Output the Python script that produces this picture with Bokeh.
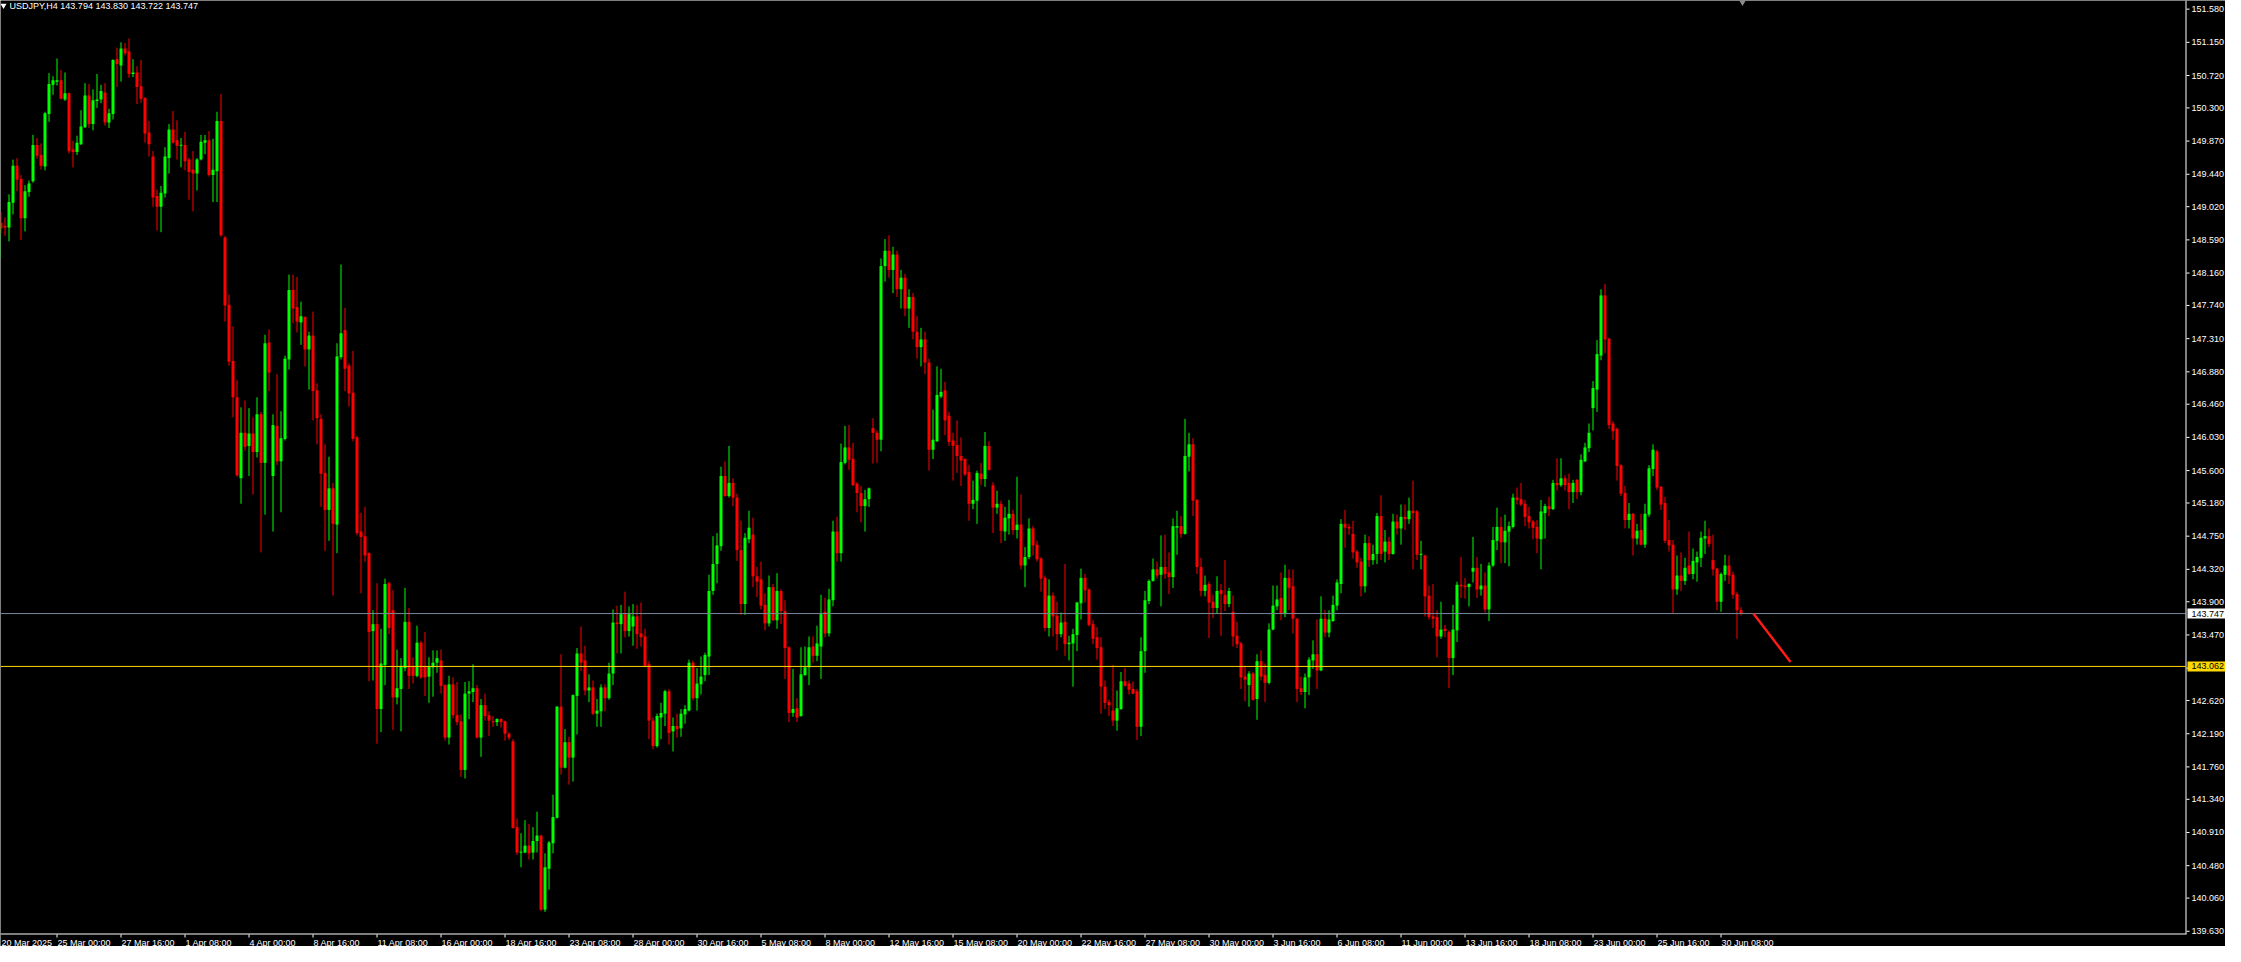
import sys
from bokeh.plotting import figure
from bokeh.models import Range1d, Label
from bokeh.core.properties import value
from bokeh.embed import file_html
from bokeh.resources import INLINE

symbol = "USDJPY,H4"

opens = [
    148.35, 148.74, 148.81, 148.77, 148.75, 149.07, 149.55, 149.38, 148.87, 149.21,
    149.35, 149.82, 149.69, 149.54, 150.22, 150.60, 150.64, 150.66, 150.41, 150.49,
    149.76, 149.73, 149.83, 150.05, 150.46, 150.09, 150.39, 150.41, 150.50, 150.11,
    150.22, 150.93, 150.85, 151.07, 151.03, 150.74, 150.76, 150.58, 150.43, 149.98,
    149.67, 149.16, 149.02, 149.19, 149.65, 150.02, 149.88, 149.81, 149.82, 149.63,
    149.50, 149.45, 149.63, 149.85, 149.88, 149.43, 149.48, 150.13, 148.62, 147.75,
    147.02, 146.55, 145.50, 146.09, 145.92, 146.08, 145.84, 146.33, 145.70, 147.26,
    145.53, 146.18, 145.72, 146.01, 147.04, 147.94, 147.72, 147.52, 147.59, 147.17,
    147.35, 146.64, 146.27, 145.57, 145.09, 145.37, 144.90, 147.07, 147.42, 146.96,
    146.61, 146.03, 144.81, 144.75, 144.53, 143.52, 143.61, 142.51, 143.08, 144.14,
    143.79, 142.66, 142.77, 143.04, 143.64, 143.06, 142.94, 143.37, 143.06, 142.93,
    143.05, 143.11, 143.14, 142.82, 142.14, 142.83, 142.43, 142.35, 141.72, 142.71,
    142.73, 142.78, 142.14, 142.56, 142.43, 142.35, 142.34, 142.38, 142.35, 142.19,
    142.09, 140.98, 140.65, 140.65, 140.74, 140.65, 140.80, 140.87, 139.91, 140.44,
    140.77, 141.10, 142.54, 141.75, 142.08, 141.88, 142.68, 143.23, 143.14, 142.75,
    142.79, 142.45, 142.48, 142.79, 142.65, 142.97, 143.63, 143.61, 143.74, 143.52,
    143.58, 143.71, 143.49, 143.45, 143.09, 142.36, 142.03, 142.40, 142.45, 142.74,
    142.22, 142.29, 142.26, 142.44, 142.49, 143.11, 142.65, 142.83, 142.95, 143.19,
    144.04, 144.39, 144.62, 145.53, 145.27, 145.44, 145.25, 144.57, 143.87, 144.71,
    144.77, 144.23, 144.19, 143.86, 143.62, 144.09, 143.66, 144.04, 143.78, 143.31,
    142.46, 142.52, 142.42, 142.95, 143.05, 143.32, 143.20, 143.32, 143.77, 143.49,
    143.92, 144.81, 144.53, 145.70, 145.90, 145.75, 145.43, 145.31, 145.14, 145.23,
    146.15, 146.09, 146.00, 148.25, 148.45, 148.20, 148.40, 147.95, 148.10, 147.70,
    147.85, 147.40, 147.20, 147.30, 147.00, 145.87, 145.98, 146.56, 146.64, 146.31,
    145.99, 145.93, 145.79, 145.75, 145.58, 145.17, 145.21, 145.56, 145.49, 145.92,
    145.41, 145.12, 145.17, 144.81, 144.98, 145.04, 144.83, 144.90, 144.37, 144.48,
    144.85, 144.64, 144.46, 144.21, 143.56, 143.98, 143.72, 143.48, 143.64, 143.35,
    143.36, 143.47, 143.88, 144.21, 144.06, 143.61, 143.44, 143.31, 142.80, 142.60,
    142.49, 142.36, 142.51, 142.87, 142.84, 142.77, 142.74, 142.28, 143.26, 143.91,
    144.17, 144.32, 144.25, 144.35, 144.28, 144.22, 144.86, 144.88, 144.78, 145.78,
    145.94, 145.22, 144.35, 144.04, 144.13, 143.90, 143.82, 144.05, 143.99, 143.87,
    143.77, 143.46, 143.36, 142.93, 142.82, 142.97, 142.64, 143.13, 142.95, 142.85,
    143.54, 143.84, 143.95, 143.74, 144.21, 144.10, 143.68, 142.78, 142.73, 142.92,
    143.14, 143.22, 143.01, 143.68, 143.50, 143.65, 143.85, 144.13, 144.91, 144.87,
    144.78, 144.55, 144.42, 144.10, 144.66, 144.44, 144.52, 145.01, 144.55, 144.68,
    144.52, 144.94, 144.85, 145.00, 144.97, 145.08, 145.07, 144.51, 144.50, 143.98,
    143.71, 143.70, 143.45, 143.55, 143.51, 143.17, 143.53, 144.12, 144.11, 144.09,
    144.29, 144.34, 144.06, 144.11, 143.80, 144.37, 144.69, 144.87, 144.67, 144.81,
    144.87, 145.25, 145.23, 145.17, 145.01, 144.94, 144.87, 144.71, 145.05, 145.14,
    145.10, 145.44, 145.41, 145.50, 145.44, 145.32, 145.48, 145.32, 145.72, 145.89,
    146.41, 146.65, 147.09, 147.87, 147.31, 146.21, 146.14, 145.67, 145.31, 144.96,
    145.04, 144.72, 144.83, 144.64, 145.03, 145.62, 145.85, 145.39, 145.18, 144.70,
    144.64, 144.06, 144.24, 144.17, 144.37, 144.26, 144.41, 144.47, 144.72, 144.75,
    144.44, 144.33, 143.90, 144.25, 144.37, 144.25, 144.00, 143.794,
]

highs = [
    148.77, 148.83, 148.95, 148.88, 149.18, 149.63, 149.65, 149.43, 149.30, 149.36,
    149.95, 149.91, 149.84, 150.25, 150.75, 150.71, 150.94, 150.79, 150.76, 150.50,
    149.87, 149.94, 150.27, 150.62, 150.61, 150.54, 150.74, 150.60, 150.62, 150.29,
    150.93, 151.08, 151.15, 151.14, 151.20, 150.93, 150.84, 150.92, 150.44, 150.13,
    149.74, 149.24, 149.29, 149.79, 150.09, 150.26, 150.14, 149.91, 149.99, 149.65,
    149.74, 149.65, 149.95, 149.95, 150.00, 149.90, 150.25, 150.48, 148.64, 147.88,
    147.47, 146.77, 146.42, 146.51, 146.41, 146.29, 146.55, 146.36, 147.36, 147.43,
    146.33, 146.85, 146.37, 147.09, 148.14, 148.14, 148.11, 147.79, 147.60, 147.40,
    147.66, 146.73, 146.33, 145.94, 145.78, 145.44, 147.25, 148.27, 147.71, 146.99,
    147.15, 146.05, 145.05, 145.13, 144.54, 143.79, 144.14, 143.55, 144.20, 144.16,
    144.05, 143.28, 143.17, 144.08, 143.82, 143.18, 143.59, 143.39, 143.51, 143.18,
    143.27, 143.27, 143.28, 142.83, 142.94, 142.92, 142.86, 142.44, 142.86, 142.87,
    143.09, 142.82, 142.64, 142.71, 142.48, 142.42, 142.39, 142.39, 142.36, 142.21,
    142.12, 141.09, 140.90, 141.07, 141.02, 140.98, 141.18, 140.88, 140.64, 140.80,
    141.40, 142.55, 143.22, 142.25, 142.15, 142.70, 143.30, 143.58, 143.33, 142.96,
    142.88, 142.64, 142.83, 142.83, 143.11, 143.80, 143.85, 143.86, 144.03, 143.84,
    143.87, 143.86, 143.89, 143.55, 143.13, 142.40, 142.45, 142.59, 142.76, 142.77,
    142.40, 142.45, 142.51, 142.56, 143.15, 143.14, 143.04, 143.19, 143.24, 144.25,
    144.75, 144.79, 145.65, 145.72, 145.92, 145.50, 145.30, 144.95, 144.79, 145.08,
    144.99, 144.35, 144.42, 144.01, 144.24, 144.13, 144.27, 144.06, 143.92, 143.32,
    143.03, 142.65, 143.31, 143.32, 143.45, 143.45, 143.59, 143.99, 143.95, 144.07,
    144.95, 145.00, 145.95, 146.18, 146.19, 145.96, 145.45, 145.40, 145.35, 145.38,
    146.28, 146.12, 148.35, 148.60, 148.65, 148.50, 148.45, 148.20, 148.15, 147.95,
    147.90, 147.60, 147.45, 147.40, 147.05, 146.39, 146.95, 146.92, 146.75, 146.36,
    146.09, 146.25, 146.03, 145.76, 145.67, 145.47, 145.60, 145.70, 146.10, 145.98,
    145.45, 145.34, 145.21, 145.13, 145.22, 145.09, 145.52, 145.29, 144.61, 144.98,
    144.88, 144.69, 144.48, 144.24, 144.19, 144.02, 143.90, 143.76, 144.39, 143.46,
    143.55, 143.90, 144.33, 144.26, 144.07, 143.66, 143.57, 143.44, 142.88, 142.63,
    143.08, 142.75, 142.99, 143.04, 142.88, 142.87, 142.77, 143.44, 144.04, 144.19,
    144.46, 144.42, 144.76, 144.77, 144.54, 144.98, 145.08, 145.01, 146.27, 146.09,
    146.02, 145.23, 144.47, 144.24, 144.16, 143.99, 144.23, 144.13, 144.44, 144.08,
    143.98, 143.64, 143.38, 143.07, 143.00, 142.99, 143.22, 143.27, 143.10, 143.62,
    144.11, 144.11, 144.28, 144.38, 144.32, 144.32, 143.69, 142.93, 142.97, 143.18,
    143.40, 143.67, 143.97, 143.79, 143.79, 143.98, 144.19, 144.97, 145.09, 144.91,
    144.95, 144.57, 144.47, 144.77, 144.75, 144.64, 145.05, 145.28, 144.83, 144.74,
    145.04, 145.03, 145.16, 145.16, 145.25, 145.47, 145.09, 144.69, 144.51, 144.11,
    144.13, 143.79, 143.90, 143.60, 143.53, 143.86, 144.16, 144.48, 144.21, 144.14,
    144.74, 144.48, 144.39, 144.28, 144.41, 144.87, 145.12, 145.00, 145.03, 144.94,
    145.30, 145.38, 145.44, 145.22, 145.13, 144.96, 144.96, 145.22, 145.17, 145.26,
    145.48, 145.76, 145.76, 145.54, 145.56, 145.48, 145.49, 145.81, 145.96, 146.21,
    146.76, 147.29, 147.95, 148.02, 147.32, 146.24, 146.16, 145.68, 145.40, 145.18,
    145.05, 144.91, 145.04, 145.17, 145.67, 145.94, 145.87, 145.40, 145.26, 144.96,
    144.70, 144.50, 144.54, 144.47, 144.81, 144.59, 144.55, 144.81, 144.95, 144.85,
    144.77, 144.34, 144.28, 144.51, 144.50, 144.29, 144.03, 143.830,
]

lows = [
    148.16, 148.37, 148.67, 148.64, 148.57, 148.92, 149.22, 148.59, 148.70, 149.15,
    149.33, 149.64, 149.50, 149.49, 150.12, 150.47, 150.59, 150.41, 150.39, 149.71,
    149.53, 149.69, 149.82, 150.04, 150.04, 150.01, 150.30, 150.36, 150.07, 150.04,
    150.15, 150.57, 150.64, 150.98, 150.69, 150.70, 150.35, 150.37, 149.85, 149.67,
    149.02, 148.71, 148.69, 149.14, 149.45, 149.84, 149.63, 149.53, 149.49, 149.11,
    148.96, 149.23, 149.62, 149.70, 149.41, 149.08, 149.08, 148.63, 147.53, 146.96,
    146.29, 145.52, 145.17, 145.86, 145.53, 145.29, 145.77, 144.54, 145.03, 146.63,
    144.81, 145.67, 145.06, 145.99, 146.91, 147.51, 147.39, 147.23, 146.95, 146.65,
    146.25, 145.94, 145.13, 144.56, 144.69, 143.98, 144.53, 147.04, 146.63, 146.43,
    145.98, 144.76, 144.01, 144.42, 142.87, 142.88, 142.06, 142.21, 142.82, 143.48,
    142.24, 142.57, 142.22, 143.00, 142.77, 142.84, 142.92, 142.90, 142.68, 142.59,
    142.67, 142.98, 142.71, 142.10, 142.05, 142.39, 142.30, 141.63, 141.61, 142.38,
    142.60, 142.13, 141.89, 142.36, 142.16, 142.28, 142.29, 142.27, 142.10, 142.11,
    140.96, 140.62, 140.46, 140.64, 140.56, 140.56, 140.65, 139.89, 139.88, 140.17,
    140.64, 141.09, 141.66, 141.74, 141.53, 141.57, 142.18, 143.00, 142.69, 142.60,
    142.43, 142.28, 142.28, 142.48, 142.63, 142.82, 143.23, 143.23, 143.44, 143.45,
    143.33, 143.29, 143.32, 143.06, 142.12, 141.99, 142.01, 142.12, 142.29, 142.05,
    141.96, 142.14, 142.15, 142.32, 142.48, 142.62, 142.49, 142.70, 142.87, 142.95,
    143.99, 144.14, 144.56, 145.26, 145.25, 145.14, 144.43, 143.73, 143.73, 144.66,
    144.09, 143.96, 143.80, 143.53, 143.58, 143.65, 143.55, 143.61, 142.90, 142.34,
    142.41, 142.34, 142.41, 142.94, 142.82, 143.11, 143.13, 142.90, 143.44, 143.45,
    143.84, 144.42, 144.42, 145.68, 145.61, 145.40, 145.06, 144.93, 144.81, 145.13,
    145.69, 145.70, 145.85, 148.05, 148.10, 147.90, 147.85, 147.70, 147.60, 147.45,
    147.30, 147.05, 146.95, 146.85, 145.60, 145.75, 145.97, 146.54, 146.06, 145.92,
    145.47, 145.57, 145.40, 145.53, 144.95, 145.10, 144.91, 145.41, 145.39, 145.60,
    144.79, 145.04, 144.66, 144.69, 144.77, 144.77, 144.72, 144.32, 144.09, 144.45,
    144.50, 144.42, 144.03, 143.52, 143.45, 143.45, 143.27, 143.44, 143.20, 143.14,
    142.80, 143.26, 143.67, 143.89, 143.58, 143.35, 143.15, 142.45, 142.51, 142.42,
    142.29, 142.23, 142.50, 142.80, 142.70, 142.70, 142.11, 142.16, 142.98, 143.87,
    144.16, 144.20, 143.84, 144.20, 144.00, 144.08, 144.51, 144.73, 144.77, 145.59,
    145.01, 144.26, 143.97, 143.97, 143.43, 143.69, 143.75, 143.46, 143.78, 143.83,
    143.32, 143.30, 142.77, 142.61, 142.54, 142.62, 142.37, 142.88, 142.60, 142.83,
    143.53, 143.79, 143.66, 143.70, 143.79, 143.49, 142.60, 142.69, 142.52, 142.69,
    143.03, 142.77, 143.00, 143.44, 143.44, 143.64, 143.79, 144.01, 144.60, 144.77,
    144.46, 144.34, 143.97, 144.02, 144.35, 144.38, 144.39, 144.44, 144.41, 144.44,
    144.51, 144.77, 144.64, 144.83, 144.91, 144.32, 144.44, 144.32, 143.71, 143.67,
    143.56, 143.18, 143.42, 143.44, 142.78, 142.95, 143.38, 143.95, 143.94, 143.84,
    144.15, 143.95, 143.98, 143.76, 143.65, 144.35, 144.57, 144.40, 144.40, 144.36,
    144.85, 145.16, 145.14, 144.88, 144.85, 144.71, 144.53, 144.32, 144.72, 145.01,
    145.09, 145.34, 145.39, 145.34, 145.10, 145.18, 145.23, 145.28, 145.71, 145.84,
    146.12, 146.36, 147.03, 147.12, 146.14, 146.00, 145.47, 145.27, 144.85, 144.85,
    144.50, 144.64, 144.63, 144.60, 145.00, 145.53, 145.35, 145.09, 144.66, 144.55,
    143.75, 143.99, 144.04, 144.12, 144.25, 144.19, 144.16, 144.35, 144.52, 144.61,
    144.24, 143.79, 143.77, 144.17, 144.13, 143.94, 143.42, 143.722,
]

closes = [
    148.76, 148.81, 148.74, 148.75, 149.08, 149.55, 149.37, 148.87, 149.22, 149.32,
    149.82, 149.68, 149.55, 150.23, 150.61, 150.66, 150.66, 150.42, 150.49, 149.74,
    149.73, 149.85, 150.06, 150.46, 150.09, 150.40, 150.41, 150.52, 150.11, 150.23,
    150.92, 150.87, 151.07, 151.01, 150.74, 150.76, 150.57, 150.42, 149.97, 149.83,
    149.14, 149.02, 149.20, 149.67, 150.02, 149.85, 149.81, 149.82, 149.61, 149.47,
    149.45, 149.63, 149.86, 149.88, 149.43, 149.50, 150.13, 148.65, 147.74, 147.01,
    146.55, 145.54, 146.09, 145.91, 146.08, 145.84, 146.33, 145.70, 147.25, 146.87,
    146.19, 145.72, 146.02, 147.05, 147.94, 147.70, 147.53, 147.60, 147.17, 147.35,
    146.63, 146.28, 145.56, 145.09, 145.37, 144.91, 147.08, 147.38, 146.92, 146.60,
    146.01, 144.79, 144.74, 144.50, 143.51, 143.61, 142.51, 143.10, 144.13, 143.56,
    142.66, 142.78, 143.07, 143.64, 142.94, 142.94, 143.37, 142.92, 142.92, 143.06,
    143.11, 143.17, 142.81, 142.14, 142.83, 142.43, 142.34, 141.72, 142.71, 142.74,
    142.78, 142.14, 142.56, 142.42, 142.36, 142.34, 142.38, 142.34, 142.19, 142.14,
    140.97, 140.65, 140.66, 140.74, 140.64, 140.80, 140.87, 139.91, 140.46, 140.78,
    141.11, 142.54, 141.75, 142.08, 141.88, 142.69, 143.23, 143.11, 142.75, 142.79,
    142.45, 142.49, 142.79, 142.65, 142.97, 143.63, 143.61, 143.74, 143.52, 143.74,
    143.71, 143.48, 143.44, 143.07, 142.36, 142.03, 142.42, 142.46, 142.74, 142.20,
    142.29, 142.25, 142.45, 142.51, 143.11, 142.65, 142.84, 142.93, 143.21, 144.04,
    144.39, 144.63, 145.53, 145.27, 145.44, 145.25, 144.57, 143.87, 144.73, 144.86,
    144.23, 144.16, 143.85, 143.62, 144.09, 143.66, 144.04, 143.78, 143.30, 142.46,
    142.51, 142.40, 142.96, 143.05, 143.31, 143.20, 143.36, 143.74, 143.49, 143.93,
    144.81, 144.53, 145.71, 145.90, 145.74, 145.41, 145.31, 145.14, 145.23, 145.37,
    146.09, 146.00, 148.25, 148.45, 148.20, 148.40, 147.95, 148.10, 147.70, 147.85,
    147.40, 147.20, 147.30, 147.00, 145.87, 146.00, 146.58, 146.62, 146.25, 145.97,
    145.92, 145.79, 145.73, 145.55, 145.17, 145.22, 145.57, 145.49, 145.92, 145.61,
    145.12, 145.17, 144.82, 144.99, 145.04, 144.83, 144.90, 144.37, 144.48, 144.85,
    144.63, 144.45, 144.20, 143.56, 143.98, 143.71, 143.48, 143.63, 143.35, 143.37,
    143.48, 143.89, 144.21, 144.05, 143.60, 143.42, 143.30, 142.80, 142.59, 142.56,
    142.36, 142.52, 142.87, 142.81, 142.76, 142.71, 142.28, 143.26, 143.92, 144.17,
    144.32, 144.24, 144.35, 144.26, 144.22, 144.88, 144.88, 144.78, 145.79, 145.94,
    145.21, 144.35, 144.04, 144.12, 143.89, 143.82, 144.04, 144.00, 143.87, 144.04,
    143.45, 143.35, 142.92, 142.89, 142.97, 142.63, 143.13, 142.93, 142.85, 143.54,
    143.85, 143.93, 143.75, 144.21, 144.08, 143.68, 142.77, 142.73, 142.92, 143.15,
    143.22, 143.01, 143.68, 143.50, 143.67, 143.86, 144.15, 144.91, 144.86, 144.85,
    144.54, 144.41, 144.10, 144.66, 144.44, 144.52, 145.01, 144.52, 144.68, 144.52,
    144.94, 144.85, 145.00, 144.97, 145.08, 145.05, 144.51, 144.52, 143.97, 143.70,
    143.68, 143.45, 143.54, 143.52, 143.17, 143.54, 144.12, 144.10, 144.09, 144.13,
    144.34, 144.06, 144.11, 143.80, 144.37, 144.70, 144.87, 144.67, 144.82, 144.88,
    145.25, 145.22, 145.16, 145.00, 144.93, 144.86, 144.72, 145.07, 145.14, 145.10,
    145.44, 145.41, 145.50, 145.41, 145.32, 145.44, 145.32, 145.74, 145.90, 146.09,
    146.67, 147.11, 147.87, 147.30, 146.19, 146.11, 145.66, 145.30, 144.96, 145.04,
    144.72, 144.82, 144.64, 145.04, 145.63, 145.87, 145.38, 145.16, 144.69, 144.63,
    144.06, 144.24, 144.17, 144.34, 144.26, 144.43, 144.48, 144.73, 144.75, 144.65,
    144.32, 143.90, 144.26, 144.37, 144.24, 143.99, 143.79, 143.747,
]

time_labels = [
    "20 Mar 2025", "25 Mar 00:00", "27 Mar 16:00", "1 Apr 08:00", "4 Apr 00:00",
    "8 Apr 16:00", "11 Apr 08:00", "16 Apr 00:00", "18 Apr 16:00", "23 Apr 08:00",
    "28 Apr 00:00", "30 Apr 16:00", "5 May 08:00", "8 May 00:00", "12 May 16:00",
    "15 May 08:00", "20 May 00:00", "22 May 16:00", "27 May 08:00", "30 May 00:00",
    "3 Jun 16:00", "6 Jun 08:00", "11 Jun 00:00", "13 Jun 16:00", "18 Jun 08:00",
    "23 Jun 00:00", "25 Jun 16:00", "30 Jun 08:00",
]
bars_per_label = 16

price_ticks = [
    151.580, 151.150, 150.720, 150.300, 149.870, 149.440, 149.020, 148.590,
    148.160, 147.740, 147.310, 146.880, 146.460, 146.030, 145.600, 145.180,
    144.750, 144.320, 143.900, 143.470, 143.040, 142.620, 142.190, 141.760,
    141.340, 140.910, 140.480, 140.060, 139.630,
]

bid_price = 143.747
level_price = 143.062
trend_x = [440.1, 449.4]
trend_y = [143.747, 143.119]

# ---------------------------------------------------------------- layout (pixels of the figure)
n = min(len(opens), len(highs), len(lows), len(closes))
if n != len(closes):
    print("length mismatch", len(opens), len(highs), len(lows), len(closes), file=sys.stderr)

W, H = 2225, 946
PX_BAR = 4.0                 # pixels per bar
X0 = 1.875                   # bar coordinate at the figure's left edge
AXIS_X = 2185                # pixel column of the price axis line
AXIS_Y = 933                 # pixel row of the time axis line
Y_TOP = 151.692              # price at the figure's top edge
Y_AXIS = 139.601             # price at the time axis line
PX_YEN = AXIS_Y / (Y_TOP - Y_AXIS)


def X(px):
    return X0 + px / PX_BAR


def Y(py):
    return Y_TOP - py / PX_YEN


FONT = value("Liberation Sans")
FS = "9px"
BULL, BEAR = "#00FF00", "#FF0000"

p = figure(width=W, height=H, x_range=Range1d(X(0), X(W)), y_range=Range1d(Y(H), Y(0)),
           output_backend="svg", toolbar_location=None,
           x_axis_location=None, y_axis_location=None,
           background_fill_color="black", border_fill_color="black",
           outline_line_color=None,
           min_border_left=0, min_border_top=0, min_border_right=0, min_border_bottom=0)
p.grid.visible = False

# ---------------------------------------------------------------- candles
idx = list(range(n))
colors, btop, bbot, hi, lo = [], [], [], [], []
min_body = 1.0 / PX_YEN
for i in idx:
    o, c = opens[i], closes[i]
    colors.append(BULL if c >= o else BEAR)
    t, b = max(o, c), min(o, c)
    if t - b < min_body:
        mid = (t + b) / 2
        t, b = mid + min_body / 2, mid - min_body / 2
    btop.append(t)
    bbot.append(b)
    hi.append(max(highs[i], o, c))
    lo.append(min(lows[i], o, c))

p.segment(x0=idx, y0=lo, x1=idx, y1=hi, line_color=colors, line_width=1)
p.vbar(x=idx, width=3 / PX_BAR, top=btop, bottom=bbot, fill_color=colors, line_color=None)

# ---------------------------------------------------------------- price lines
p.segment(x0=[X(0)], x1=[X(AXIS_X)], y0=[bid_price], y1=[bid_price],
          line_color="#778899", line_width=1)
p.segment(x0=[X(0)], x1=[X(AXIS_X)], y0=[level_price], y1=[level_price],
          line_color="#FFD700", line_width=1)

# drawn trend line
p.line(trend_x, trend_y, line_color="#FF1A1A", line_width=2.5)

# ---------------------------------------------------------------- axes (drawn with the same scales)
p.segment(x0=[X(AXIS_X + 0.5)], x1=[X(AXIS_X + 0.5)], y0=[Y(0)], y1=[Y(AXIS_Y + 0.5)],
          line_color="white", line_width=1)
p.segment(x0=[X(0)], x1=[X(AXIS_X + 1)], y0=[Y(AXIS_Y + 0.5)], y1=[Y(AXIS_Y + 0.5)],
          line_color="white", line_width=1)

# price ticks + labels
p.segment(x0=[X(AXIS_X + 1)] * len(price_ticks), x1=[X(AXIS_X + 4)] * len(price_ticks),
          y0=price_ticks, y1=price_ticks, line_color="white", line_width=1)
p.text(x=[X(AXIS_X + 6)] * len(price_ticks), y=price_ticks,
       text=[f"{v:.3f}" for v in price_ticks],
       text_color="white", text_font=FONT, text_font_size=FS,
       text_align="left", text_baseline="middle")

# price tags on the axis
tag_prices = [bid_price, level_price]
tag_fill = ["white", "#FFD700"]
half_h = 5 / PX_YEN
p.quad(left=[X(AXIS_X + 2)] * 2, right=[X(AXIS_X + 44)] * 2,
       top=[v + half_h for v in tag_prices], bottom=[v - half_h for v in tag_prices],
       fill_color=tag_fill, line_color=None)
p.text(x=[X(AXIS_X + 6)] * 2, y=tag_prices, text=[f"{v:.3f}" for v in tag_prices],
       text_color="black", text_font=FONT, text_font_size=FS,
       text_align="left", text_baseline="middle")

# time ticks + labels
tick_px = [k * bars_per_label * PX_BAR - 8 for k in range(len(time_labels))]
p.segment(x0=[X(t + 0.5) for t in tick_px], x1=[X(t + 0.5) for t in tick_px],
          y0=[Y(AXIS_Y + 1)] * len(tick_px), y1=[Y(AXIS_Y + 4)] * len(tick_px),
          line_color="white", line_width=1)
p.text(x=[X(max(t + 1, 1)) for t in tick_px], y=[Y(AXIS_Y + 9)] * len(tick_px),
       text=time_labels, text_color="white", text_font=FONT, text_font_size=FS,
       text_align="left", text_baseline="middle")

# ---------------------------------------------------------------- header and markers
p.scatter([X(1742)], [Y(1)], marker="inverted_triangle", size=8,
          fill_color="#8C8C8C", line_color=None)
p.scatter([X(3)], [Y(5)], marker="inverted_triangle", size=6,
          fill_color="white", line_color=None)
last = n - 1
header = f"{symbol} {opens[last]:.3f} {highs[last]:.3f} {lows[last]:.3f} {closes[last]:.3f}"
p.text(x=[X(9)], y=[Y(5)], text=[header], text_color="white", text_font=FONT,
       text_font_size=FS, text_align="left", text_baseline="middle")

open("out.html", "w").write(file_html(p, INLINE))
